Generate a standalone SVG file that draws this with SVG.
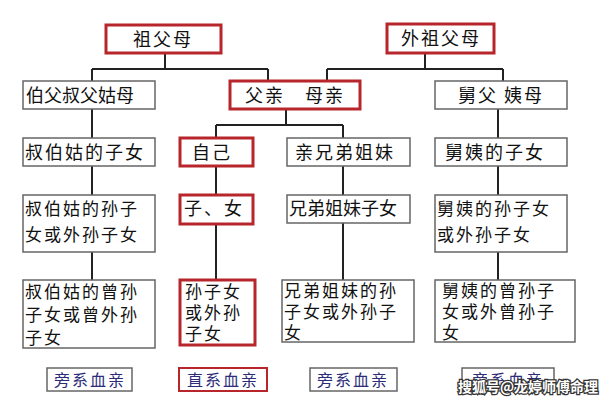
<svg xmlns="http://www.w3.org/2000/svg" width="600" height="400" viewBox="0 0 600 400">
<style>
.g{fill:#fff;stroke:#666;stroke-width:1.5}
.r{fill:#fff;stroke:#b8262b;stroke-width:3}
.c{stroke:#222;stroke-width:2;fill:none}
text{font-family:"Noto Sans CJK SC","Noto Sans CJK JP",sans-serif;font-size:18px;fill:#111;letter-spacing:2px}
.s{font-size:17px}
.m{text-anchor:middle}
.b{fill:#2c2c7a;font-size:16px}
</style>
<rect width="600" height="400" fill="#fff"/>
<g id="connectors">
<path class="c" d="M165 53V69M92 69H268M92 69V81M268 69V81"/>
<path class="c" d="M425 53V69M327 69H503M327 69V81M503 69V81"/>
<path class="c" d="M286 109V125M216 125H343M216 125V138M343 125V138"/>
<path class="c" d="M92 109V280M216 166V280M343 166V280M498 109V280"/>
</g>
<g id="n1"><rect class="r" x="106" y="25" width="115" height="28"/><text class="m" x="163" y="46">祖父母</text></g>
<g id="n2"><rect class="r" x="387" y="24" width="107" height="29"/><text class="m" x="441" y="45">外祖父母</text></g>
<g id="n3"><rect class="g" x="23" y="81" width="132" height="28"/><text x="26" y="102" style="letter-spacing:0">伯父叔父姑母</text></g>
<g id="n4"><rect class="r" x="230" y="81" width="130" height="28"/><text class="m" x="295" y="102">父亲　母亲</text></g>
<g id="n5"><rect class="g" x="435" y="81" width="132" height="28"/><text class="m" x="501" y="102">舅父 姨母</text></g>
<g id="n6"><rect class="g" x="23" y="138" width="132" height="28"/><text x="25" y="159">叔伯姑的子女</text></g>
<g id="n7"><rect class="r" x="180" y="138" width="73" height="28"/><text x="192" y="159">自己</text></g>
<g id="n8"><rect class="g" x="287" y="138" width="123" height="28"/><text x="295" y="159">亲兄弟姐妹</text></g>
<g id="n9"><rect class="g" x="435" y="138" width="132" height="28"/><text x="445" y="159">舅姨的子女</text></g>
<g id="n10"><rect class="g" x="23" y="195" width="132" height="57"/><text class="s" x="25" y="215">叔伯姑的孙子</text><text class="s" x="25" y="241">女或外孙子女</text></g>
<g id="n11"><rect class="r" x="180" y="195" width="73" height="29"/><text x="184" y="215">子、女</text></g>
<g id="n12"><rect class="g" x="287" y="195" width="123" height="28"/><text x="289" y="215" style="letter-spacing:0">兄弟姐妹子女</text></g>
<g id="n13"><rect class="g" x="435" y="195" width="132" height="57"/><text class="s" x="437" y="215">舅姨的孙子女</text><text class="s" x="437" y="241">或外孙子女</text></g>
<g id="n14"><rect class="g" x="23" y="280" width="132" height="68"/><text class="s" x="25" y="298">叔伯姑的曾孙</text><text class="s" x="25" y="321">子女或曾外孙</text><text class="s" x="25" y="344">子女</text></g>
<g id="n15"><rect class="r" x="180" y="280" width="75" height="65"/><text class="s" x="185" y="298">孙子女</text><text class="s" x="185" y="319">或外孙</text><text class="s" x="185" y="340">子女</text></g>
<g id="n16"><rect class="g" x="282" y="280" width="132" height="62"/><text class="s" x="284" y="297">兄弟姐妹的孙</text><text class="s" x="284" y="318">子女或外孙子</text><text class="s" x="284" y="339">女</text></g>
<g id="n17"><rect class="g" x="435" y="280" width="140" height="62"/><text class="s" x="442" y="297">舅姨的曾孙子</text><text class="s" x="442" y="318">女或外曾孙子</text><text class="s" x="442" y="339">女</text></g>
<g id="l1"><rect class="g" x="47" y="368" width="85" height="23"/><text class="m b" x="90" y="386">旁系血亲</text></g>
<g id="l2"><rect class="r" x="179" y="368" width="88" height="23" style="stroke-width:2"/><text class="m b" x="223" y="386">直系血亲</text></g>
<g id="l3"><rect class="g" x="310" y="368" width="87" height="23"/><text class="m b" x="353" y="386">旁系血亲</text></g>
<g id="l4"><rect class="g" x="462" y="368" width="92" height="23"/><text class="m b" x="508" y="386">旁系血亲</text></g>
<text x="458" y="392" style="font-size:14px;fill:#fff;stroke:#333;stroke-width:2.5;paint-order:stroke;letter-spacing:0;font-weight:bold">搜狐号@龙婷师傅命理</text>
</svg>
